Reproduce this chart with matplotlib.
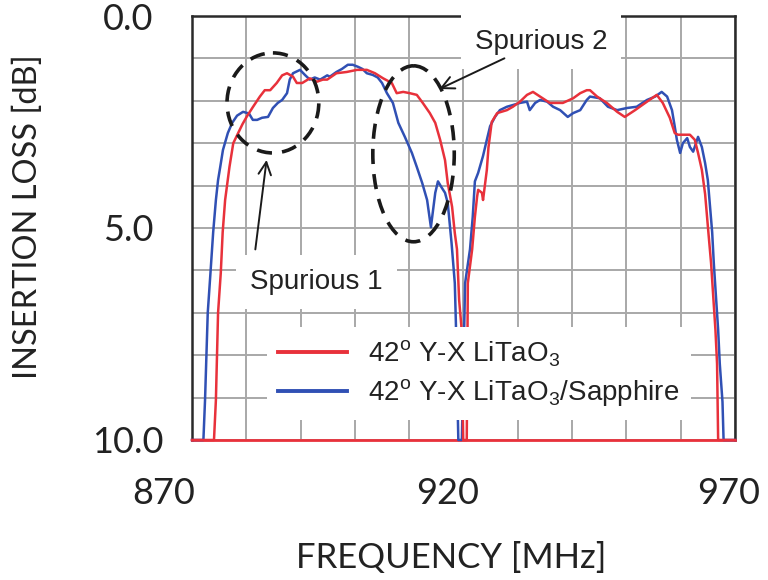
import matplotlib

matplotlib.use("Agg")
import matplotlib.pyplot as plt  # noqa: E402
import matplotlib.transforms as mtransforms  # noqa: E402
from matplotlib.patches import Ellipse  # noqa: E402
from matplotlib.ticker import FixedLocator, MultipleLocator  # noqa: E402

freq_litao3 = [
    870.0, 874.05, 874.4, 874.8, 875.3, 875.65, 876.1, 876.9, 877.6, 878.5,
    879.3, 880.1, 881.2, 882.5, 883.4, 884.4, 885.6, 886.6, 887.5, 888.6,
    889.3, 890.3, 891.7, 893.0, 894.1, 894.9, 896.6, 898.5, 900.4, 902.2,
    903.7, 905.2, 906.8, 907.7, 908.9, 910.1, 911.4, 912.5, 913.8, 914.8,
    915.7, 916.6, 917.1, 917.9, 918.4, 918.8, 919.2, 919.6, 919.95, 920.6,
    920.8, 921.6, 922.1, 922.5, 922.7, 923.4, 923.6, 924.3, 924.6, 925.2,
    926.2, 928.0, 929.1, 930.4, 931.7, 932.8, 934.1, 935.9, 938.3, 940.2,
    941.5, 942.7, 943.3, 944.6, 946.4, 948.3, 949.7, 951.6, 953.8, 955.6,
    956.7, 958.0, 958.9, 959.5, 961.7, 962.6, 963.2, 963.9, 964.5, 965.1,
    965.6, 966.0, 966.4, 966.7, 966.9, 970.0,
]
loss_litao3 = [
    10.0, 10.0, 9.06, 7.0, 6.06, 5.1, 4.34, 3.56, 3.0, 2.76,
    2.55, 2.37, 2.15, 1.9, 1.75, 1.75, 1.58, 1.4, 1.35, 1.43,
    1.58, 1.58, 1.47, 1.55, 1.5, 1.5, 1.35, 1.32, 1.27, 1.27,
    1.35, 1.47, 1.58, 1.82, 1.79, 1.82, 1.86, 2.05, 2.29, 2.52,
    2.92, 3.4, 3.94, 4.5, 5.12, 5.5, 6.7, 7.3, 10.0, 10.0,
    6.3, 5.5, 4.74, 4.27, 4.1, 4.17, 4.34, 3.63, 3.1, 2.5,
    2.29, 2.22, 2.14, 2.02, 1.86, 1.79, 1.9, 2.05, 2.05, 1.94,
    1.82, 1.75, 1.75, 1.9, 2.05, 2.26, 2.38, 2.22, 2.02, 1.86,
    2.05, 2.4, 2.76, 2.8, 2.8, 2.92, 3.23, 3.63, 4.2, 5.1,
    5.83, 6.62, 7.4, 8.2, 10.0, 10.0,
]

freq_sapphire = [
    870.0, 872.1, 872.4, 872.9, 873.4, 873.9, 874.4, 874.8, 875.2, 875.7,
    876.6, 877.4, 878.3, 879.4, 880.5, 881.2, 882.0, 882.9, 884.0, 884.9,
    885.8, 886.6, 887.5, 888.0, 888.6, 889.9, 890.8, 891.7, 892.6, 893.6,
    894.9, 895.4, 896.6, 897.6, 898.7, 899.6, 900.6, 901.4, 902.2, 903.3,
    904.2, 905.0, 905.9, 907.0, 908.0, 909.2, 910.5, 911.4, 912.4, 913.3,
    914.0, 914.8, 915.3, 916.0, 916.6, 917.1, 917.8, 918.4, 918.6, 919.05,
    919.7, 920.3, 921.2, 921.7, 922.1, 922.7, 923.6, 924.3, 924.9, 925.8,
    926.7, 928.0, 929.1, 930.4, 931.7, 932.2, 933.2, 934.1, 935.4, 936.5,
    937.8, 939.2, 940.2, 941.5, 942.7, 943.3, 945.1, 946.6, 948.3, 950.1,
    951.9, 953.8, 955.3, 956.5, 957.5, 958.4, 958.9, 959.3, 959.9, 960.4,
    961.2, 961.7, 962.3, 963.2, 963.9, 964.5, 965.0, 965.8, 966.1, 966.5,
    966.9, 967.2, 967.7, 967.9, 970.0,
]
loss_sapphire = [
    10.0, 10.0, 9.06, 7.0, 6.06, 5.1, 4.34, 3.87, 3.56, 3.16,
    2.76, 2.52, 2.35, 2.26, 2.3, 2.45, 2.45, 2.4, 2.38, 2.17,
    2.05, 1.98, 1.82, 1.5, 1.35, 1.27, 1.39, 1.5, 1.45, 1.5,
    1.4, 1.43, 1.32, 1.25, 1.15, 1.15, 1.2, 1.25, 1.35, 1.39,
    1.45, 1.58, 1.82, 2.05, 2.52, 2.85, 3.23, 3.56, 3.94, 4.34,
    4.98, 4.17, 3.9, 4.05, 4.17, 4.41, 5.35, 6.3, 7.24, 10.0,
    10.0, 6.3, 5.5, 4.74, 3.9, 3.7, 3.3, 2.92, 2.6, 2.38,
    2.22, 2.14, 2.1, 2.05, 2.02, 2.22, 2.05, 1.98, 2.02, 2.14,
    2.22, 2.38, 2.29, 2.22, 1.98, 1.9, 1.94, 2.14, 2.22, 2.17,
    2.14, 1.98, 1.9, 1.79, 1.9, 2.22, 2.6, 2.92, 3.23, 3.0,
    2.88, 3.09, 3.2, 2.85, 3.09, 3.47, 3.87, 5.1, 5.83, 6.62,
    7.4, 8.2, 9.1, 10.0, 10.0,
]

LABEL_LITAO3 = r"42$^{\rm o}$ Y-X LiTaO$_3$"
LABEL_SAPPHIRE = r"42$^{\rm o}$ Y-X LiTaO$_3$/Sapphire"

RED = "#E8313B"
BLUE = "#3050B4"
GRID = "#A8A8A8"
INK = "#222222"

plt.rcParams["mathtext.fontset"] = "custom"
plt.rcParams["mathtext.rm"] = "Liberation Sans"
AXIS_FONT = "Lato"
NOTE_FONT = "Liberation Sans"

fig = plt.figure(figsize=(7.68, 5.8), dpi=100)
ax = fig.add_axes([0.25, 0.2414, 0.707, 0.731])

ax.plot(freq_sapphire, loss_sapphire, color=BLUE, lw=1.8, clip_on=False, zorder=4,
        label=LABEL_SAPPHIRE)
ax.plot(freq_litao3, loss_litao3, color=RED, lw=1.8, clip_on=False, zorder=4.1,
        label=LABEL_LITAO3)

ax.set_xlim(870, 970)
ax.set_ylim(10, 0)

ax.xaxis.set_major_locator(FixedLocator([870, 920, 970]))
ax.xaxis.set_minor_locator(MultipleLocator(10))
ax.yaxis.set_major_locator(FixedLocator([0, 5, 10]))
ax.yaxis.set_minor_locator(MultipleLocator(1))
ax.set_yticklabels(["0.0", "5.0", "10.0"])
ax.grid(which="both", color=GRID, lw=1.4)
ax.set_axisbelow(True)
ax.tick_params(which="both", length=0)
ax.tick_params(axis="x", pad=27, labelsize=26)
ax.tick_params(axis="y", pad=46, labelsize=26)
for lab in ax.get_yticklabels():
    lab.set_horizontalalignment("center")
for lab in ax.get_xticklabels() + ax.get_yticklabels():
    lab.set_family(AXIS_FONT)
    lab.set_color(INK)

# the x labels sit a little left of their grid lines in the original
for lab, dx in zip(ax.get_xticklabels(), [-28, -16, -6]):
    lab.set_transform(lab.get_transform()
                      + mtransforms.ScaledTranslation(dx / 100, 0, fig.dpi_scale_trans))

for side in ["left", "right", "top"]:
    ax.spines[side].set_linewidth(1.8)
    ax.spines[side].set_color("#2a2a2a")
ax.spines["bottom"].set_linewidth(2.0)
ax.spines["bottom"].set_color(RED)

ax.set_xlabel("FREQUENCY [MHz]", family=AXIS_FONT, fontsize=25, color=INK, va="center")
ax.xaxis.set_label_coords(0.477, -0.278)
ax.set_ylabel("INSERTION LOSS [dB]", family=AXIS_FONT, fontsize=23.5, color=INK,
              va="center")
ax.yaxis.set_label_coords(-0.302, 0.528)

# dashed circles around the spurious responses
dash = (0, (4.2, 2.8))
ax.add_patch(Ellipse((884.9, 2.05), 16.9, 2.36, fill=False, ec="#1a1a1a", lw=2.6,
                     ls=dash, zorder=5))
ax.add_patch(Ellipse((910.8, 3.25), 15.0, 4.15, fill=False, ec="#1a1a1a", lw=2.6,
                     ls=dash, zorder=5))

box = dict(boxstyle="square,pad=0.5", fc="white", ec="none")
ax.text(880.7, 6.27, "Spurious 1", family=NOTE_FONT, fontsize=20, color=INK,
        ha="left", va="center", bbox=box, zorder=6)
ax.text(922.1, 0.62, "Spurious 2", family=NOTE_FONT, fontsize=20, color=INK,
        ha="left", va="center", bbox=box, zorder=6, clip_on=False)

arrow = dict(arrowstyle="->,head_length=0.9,head_width=0.45", color="#1a1a1a", lw=1.4)
ax.annotate("", xy=(883.8, 3.33), xytext=(881.6, 5.57), arrowprops=arrow, zorder=6)
ax.annotate("", xy=(915.1, 1.75), xytext=(928.0, 0.97), arrowprops=arrow, zorder=6)

handles, labels = ax.get_legend_handles_labels()
leg = ax.legend(handles[::-1], labels[::-1], loc="center left",
                bbox_to_anchor=(0.138, 0.157), borderaxespad=0, frameon=True,
                fancybox=False, framealpha=1, edgecolor="none", handlelength=2.5,
                handletextpad=0.75, labelspacing=0.3,
                prop={"family": NOTE_FONT, "size": 20})
leg.set_zorder(7)
for line in leg.get_lines():
    line.set_linewidth(2.8)
for t in leg.get_texts():
    t.set_color(INK)

fig.savefig("out.png", dpi=100)
